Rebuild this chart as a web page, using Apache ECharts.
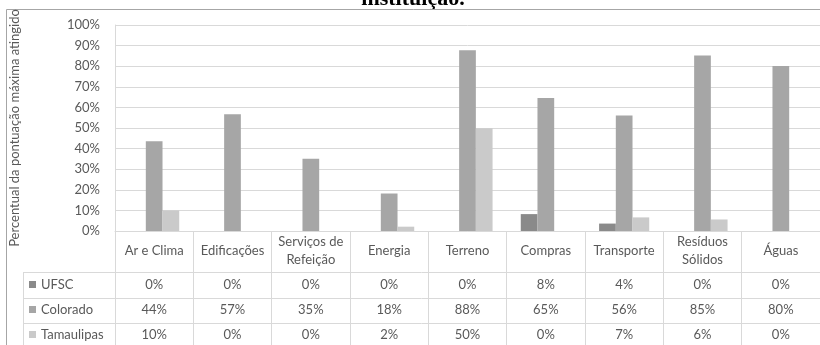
<!DOCTYPE html>
<html>
<head>
<meta charset="utf-8">
<script src="https://cdn.jsdelivr.net/npm/echarts@6/dist/echarts.min.js"></script>
<style>
html,body{margin:0;padding:0;background:#fff;}
#chart{width:820px;height:345px;}
</style>
</head>
<body>
<div id="chart"></div>
<script>
var categories = ['Ar e Clima','Edificações','Serviços de\nRefeição','Energia','Terreno','Compras','Transporte','Resíduos\nSólidos','Águas'];
var seriesNames = ['UFSC','Colorado','Tamaulipas'];
var ufsc = [0,0,0,0,0,8.2,3.6,0,0];
var colorado = [43.6,56.7,35.1,18.2,87.7,64.6,56.1,85.2,80.1];
var tamaulipas = [10,0,0,2.1,49.9,0,6.6,5.6,0];
var colors = ['#8a8a8a','#a6a6a6','#cacaca'];
var yTicks = {min:0,max:100,interval:10};

var font = 'Lato';
var txt = '#595959';
var line = '#d9d9d9';

function valueAxis(values, offset){
	return {
		type:'category',
		gridIndex:0,
		position:'bottom',
		offset:offset,
		data:categories,
		axisLine:{show:false},
		axisTick:{show:false},
		axisLabel:{
			interval:0, margin:0, verticalAlign:'middle',
			fontFamily:font, fontSize:13, color:txt,
			formatter:function(v,i){ return Math.round(values[i]) + '%'; }
		}
	};
}

function getSeries(){
	var data = [ufsc,colorado,tamaulipas];
	var arr = [];
	for(var i=0;i<data.length;i++){
		arr.push({
			name:seriesNames[i],
			type:'bar',
			xAxisIndex:0,
			data:data[i],
			barGap:'0%',
			barCategoryGap:'36%',
			itemStyle:{color:colors[i]}
		});
	}
	return arr;
}

var option = {
	animation:false,
	color:colors,
	grid:{left:115,right:0,top:25,bottom:114},
	legend:{
		orient:'vertical',
		left:29,
		top:272,
		height:90,
		padding:0,
		itemGap:0,
		itemWidth:7,
		itemHeight:7,
		icon:'rect',
		data:seriesNames,
		textStyle:{fontFamily:font,fontSize:13,color:txt,lineHeight:25}
	},
	xAxis:[
		{
			type:'category',
			position:'bottom',
			data:categories,
			axisLine:{show:true,lineStyle:{color:line}},
			axisTick:{show:true,interval:0,length:114,lineStyle:{color:line}},
			axisLabel:{
				interval:0, margin:20, verticalAlign:'middle', lineHeight:18,
				fontFamily:font, fontSize:13, color:txt
			}
		},
		valueAxis(ufsc,54),
		valueAxis(colorado,79),
		valueAxis(tamaulipas,104)
	],
	yAxis:{
		type:'value',
		min:yTicks.min,
		max:yTicks.max,
		interval:yTicks.interval,
		name:'Percentual da pontuação máxima atingido',
		nameLocation:'middle',
		nameGap:94,
		nameTextStyle:{fontFamily:font,fontSize:13,color:txt},
		axisLine:{show:true,lineStyle:{color:line}},
		axisTick:{show:false},
		axisLabel:{margin:15,fontFamily:font,fontSize:13,color:txt,formatter:'{value}%'},
		splitLine:{lineStyle:{color:line}}
	},
	graphic:[
		// title cut off at the top of the picture
		{type:'text',x:413,y:10,style:{text:'instituição.',align:'center',verticalAlign:'bottom',fontFamily:'Liberation Serif',fontWeight:'bold',fontSize:22,fill:'#000'}},
		{type:'rect',shape:{x:6.5,y:9.5,width:830,height:350},style:{fill:null,stroke:'#a6a6a6',lineWidth:1},silent:true},
		{type:'line',shape:{x1:23,y1:272.5,x2:820,y2:272.5},style:{stroke:line}},
		{type:'line',shape:{x1:23,y1:298.5,x2:820,y2:298.5},style:{stroke:line}},
		{type:'line',shape:{x1:23,y1:323.5,x2:820,y2:323.5},style:{stroke:line}},
		{type:'line',shape:{x1:23.5,y1:272,x2:23.5,y2:345},style:{stroke:line}}
	],
	series:getSeries()
};

var myChart = echarts.init(document.getElementById('chart'));
myChart.setOption(option);
</script>
</body>
</html>
